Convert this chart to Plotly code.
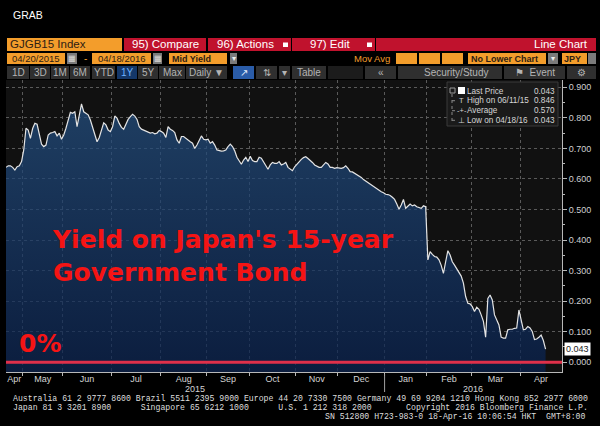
import plotly.graph_objects as go
import pandas as pd

# ---------------- data ----------------
START_DATE = "2015-04-20"
END_DATE = "2016-04-18"
JP_MARKET_HOLIDAYS = [
    "2015-04-29", "2015-05-04", "2015-05-05", "2015-05-06", "2015-07-20",
    "2015-09-21", "2015-09-22", "2015-09-23", "2015-10-12", "2015-11-03",
    "2015-11-23", "2015-12-23", "2015-12-31", "2016-01-01", "2016-01-11",
    "2016-02-11", "2016-03-21",
]
# GJGB15 mid yield (%), one value per trading day
YIELD_15Y = [
    0.638, 0.643, 0.643, 0.638, 0.629, 0.640, 0.643, 0.657, 0.695, 0.766,
    0.760, 0.733, 0.765, 0.782, 0.779, 0.744, 0.714, 0.706, 0.711, 0.744,
    0.750, 0.752, 0.755, 0.741, 0.750, 0.730, 0.744, 0.766, 0.793, 0.818,
    0.815, 0.820, 0.771, 0.815, 0.846, 0.820, 0.815, 0.810, 0.793, 0.771,
    0.744, 0.722, 0.736, 0.760, 0.784, 0.777, 0.760, 0.755, 0.771, 0.806,
    0.799, 0.782, 0.769, 0.763, 0.782, 0.795, 0.804, 0.812, 0.806, 0.795,
    0.771, 0.763, 0.760, 0.757, 0.755, 0.750, 0.752, 0.748, 0.750, 0.759,
    0.755, 0.750, 0.736, 0.771, 0.763, 0.759, 0.752, 0.728, 0.717, 0.739,
    0.739, 0.733, 0.725, 0.722, 0.717, 0.700, 0.711, 0.725, 0.741, 0.730,
    0.728, 0.730, 0.717, 0.722, 0.711, 0.695, 0.692, 0.691, 0.692, 0.695,
    0.706, 0.714, 0.706, 0.692, 0.671, 0.657, 0.648, 0.662, 0.671, 0.657,
    0.674, 0.660, 0.657, 0.657, 0.671, 0.668, 0.657, 0.646, 0.632, 0.646,
    0.654, 0.651, 0.651, 0.657, 0.646, 0.649, 0.654, 0.638, 0.632, 0.627,
    0.640, 0.649, 0.657, 0.664, 0.670, 0.673, 0.667, 0.662, 0.654, 0.646,
    0.643, 0.638, 0.638, 0.645, 0.654, 0.649, 0.638, 0.638, 0.635, 0.637,
    0.635, 0.635, 0.637, 0.643, 0.635, 0.624, 0.623, 0.618, 0.616, 0.610,
    0.605, 0.598, 0.593, 0.588, 0.583, 0.577, 0.572, 0.568, 0.561, 0.558,
    0.555, 0.550, 0.549, 0.546, 0.540, 0.533, 0.518, 0.501, 0.515, 0.533,
    0.504, 0.512, 0.518, 0.512, 0.515, 0.509, 0.506, 0.504, 0.512, 0.509,
    0.335, 0.362, 0.353, 0.346, 0.344, 0.335, 0.317, 0.291, 0.329, 0.365,
    0.351, 0.329, 0.318, 0.307, 0.297, 0.282, 0.259, 0.215, 0.193, 0.191,
    0.182, 0.166, 0.180, 0.173, 0.155, 0.134, 0.082, 0.209, 0.220, 0.204,
    0.155, 0.138, 0.122, 0.082, 0.079, 0.079, 0.106, 0.108, 0.108, 0.111,
    0.112, 0.171, 0.138, 0.106, 0.108, 0.117, 0.112, 0.101, 0.074, 0.076,
    0.082, 0.089, 0.071, 0.043,
]
Y_TICKS = [0.0, 0.1, 0.2, 0.3, 0.4, 0.5, 0.6, 0.7, 0.8, 0.9]
LEGEND_LABELS = ["Last Price", "High on 06/11/15", "Average", "Low on 04/18/16"]
LEGEND_VALUES = ["0.043", "0.846", "0.570", "0.043"]
TITLE_LINES = ["Yield on Japan's 15-year", "Government Bond"]
ZERO_LABEL = "0%"
FOOTER_LINES = [
    "Australia 61 2 9777 8600 Brazil 5511 2395 9000 Europe 44 20 7330 7500 Germany 49 69 9204 1210 Hong Kong 852 2977 6000",
    "Japan 81 3 3201 8900      Singapore 65 6212 1000      U.S. 1 212 318 2000       Copyright 2016 Bloomberg Finance L.P.",
    "SN 512800 H723-983-0 18-Apr-16 10:06:54 HKT  GMT+8:00",
]

# ---------------- derived ----------------
dates = pd.bdate_range(START_DATE, END_DATE, freq="C", holidays=JP_MARKET_HOLIDAYS)
n = min(len(dates), len(YIELD_15Y))
dates = dates[:n]
yields = YIELD_15Y[:n]
x_idx = list(range(n))

X_MAX = 250.4
Y_MIN, Y_MAX = -0.032, 0.924

bounds = [i - 0.5 for i in range(1, n) if dates[i].month != dates[i - 1].month]
edges = [0] + bounds + [X_MAX]
centers = [(edges[k] + edges[k + 1]) / 2 for k in range(len(edges) - 1)]
month_labels = [dates[0].strftime("%b")] + [dates[int(b + 0.5)].strftime("%b") for b in bounds]
year_bounds = [b for b in bounds if dates[int(b + 0.5)].year != dates[int(b - 0.5)].year]
year_edges = [0] + year_bounds + [X_MAX]
year_centers = [(year_edges[k] + year_edges[k + 1]) / 2 for k in range(len(year_edges) - 1)]
year_labels = [str(dates[0].year)] + [str(dates[int(b + 0.5)].year) for b in year_bounds]

# ---------------- pixel helpers ----------------
W, H = 600, 426
L, R, T, B = 6, 562, 80, 372


def px(x):
    return (x - L) / (R - L)


def py(y):
    return (B - y) / (B - T)


SANS = "Liberation Sans, Arial, sans-serif"
MONO = "Liberation Mono, DejaVu Sans Mono, monospace"
ORANGE = "#f39d2b"
RED = "#c0122d"
DARK_TXT = "#2e2013"
BTN = "#2f2f2f"
GRAYBOX = "#7b7b7b"

shapes = []
annotations = []


def box(x0, y0, x1, y1, fill, line=None):
    shapes.append(dict(type="rect", xref="paper", yref="paper",
                       x0=px(x0), x1=px(x1), y0=py(y1), y1=py(y0),
                       fillcolor=fill, line=dict(width=1 if line else 0, color=line or fill),
                       layer="above"))


def text(x, y, s, size=10, color="#dddddd", anchor="left", family=SANS):
    annotations.append(dict(x=px(x), y=py(y), xref="paper", yref="paper", text=s,
                            showarrow=False, xanchor=anchor, yanchor="middle",
                            borderpad=0, borderwidth=0,
                            font=dict(size=size, color=color, family=family)))


# ---------------- header ----------------
text(13, 15, "GRAB", 10.5, "#ffffff")

# row 1
box(7, 38, 122, 51, ORANGE)
text(10, 44.5, "GJGB15 Index", 11.5, DARK_TXT)
for (lbl, x0, x1, dd) in [("95) Compare", 124, 206, False), ("96) Actions", 208, 291, True),
                          ("97) Edit", 292, 375, True)]:
    box(x0, 38, x1, 51, RED)
    text((x0 + x1) / 2 - (4 if dd else 0), 44.5, lbl, 11.5, "#ffffff", "center")
    if dd:
        box(x1 - 8, 42.5, x1 - 3, 47, "#ffffff")
box(376, 38, 596, 51, RED)
text(588, 44.5, "Line Chart", 11.5, "#ffffff", "right")

# row 2
box(7, 53, 65, 64, ORANGE)
text(36, 58.5, "04/20/2015", 9.5, DARK_TXT, "center")
box(67, 53, 77, 64, GRAYBOX)
text(72, 58.5, "▦", 8, "#dddddd", "center")
text(85, 58.5, "-", 10, ORANGE, "center")
box(92, 53, 151, 64, ORANGE)
text(121.5, 58.5, "04/18/2016", 9.5, DARK_TXT, "center")
box(153, 53, 162, 64, GRAYBOX)
text(157.5, 58.5, "▦", 8, "#dddddd", "center")
box(169, 53, 227, 64, ORANGE)
text(172, 58.5, "<b>Mid Yield</b>", 9, DARK_TXT)
box(230, 53, 237, 64, GRAYBOX)
text(233.5, 58.5, "▾", 8, "#eeeeee", "center")
text(390, 58.5, "Mov Avg", 9.5, ORANGE, "right")
for x0, x1 in [(396, 417), (419, 440), (442, 463)]:
    box(x0, 53, x1, 64, ORANGE)
box(468, 53, 546, 64, ORANGE)
text(471, 58.5, "<b>No Lower Chart</b>", 9, DARK_TXT)
box(548, 53, 558, 64, GRAYBOX)
text(553, 58.5, "▾", 8, "#eeeeee", "center")
box(562, 53, 587, 64, ORANGE)
text(564, 58.5, "<b>JPY</b>", 9, DARK_TXT)
box(588, 53, 596, 64, GRAYBOX)

# row 3
buttons = [("1D", 7, 29), ("3D", 30, 50), ("1M", 51, 69), ("6M", 70, 90), ("YTD", 92, 115),
           ("1Y", 117, 137), ("5Y", 138, 158), ("Max", 159, 185), ("Daily ▼", 186, 227),
           ("↗", 233, 254), ("⇅", 256, 277), ("▾", 279, 290), ("Table", 292, 326),
           ("", 328, 363), ("«", 365, 396), ("Security/Study", 398, 502),
           ("⚑  Event", 504, 565), ("⚙", 567, 596)]
for lbl, x0, x1 in buttons:
    if lbl == "1Y":
        box(x0, 66, x1, 79, "#143768")
        text((x0 + x1) / 2, 72.5, lbl, 10, "#6fb4ff", "center")
    elif lbl == "↗":
        box(x0, 66, x1, 79, "#2a5ca8")
        text((x0 + x1) / 2, 72.5, lbl, 10, "#e8f0ff", "center")
    else:
        box(x0, 66, x1, 79, BTN if lbl else "#1c1c1c")
        text((x0 + x1) / 2 + (6 if lbl == "Security/Study" else 0), 72.5, lbl, 10,
             "#b4b4b4", "center")

# ---------------- chart traces ----------------
fig = go.Figure()
fig.add_trace(go.Scatter(x=x_idx, y=[Y_MIN] * n, mode="lines", line=dict(width=0),
                         hoverinfo="skip", showlegend=False))
fig.add_trace(go.Scatter(
    x=x_idx, y=yields, mode="lines", line=dict(color="#e4e4e4", width=1.2),
    fill="tonexty",
    fillgradient=dict(type="vertical",
                      colorscale=[[0, "rgba(9,34,80,0.72)"], [1, "rgba(36,80,130,0.72)"]]),
    customdata=list(dates.strftime("%m/%d/%y")),
    hovertemplate="%{customdata}: %{y:.3f}<extra></extra>", showlegend=False))
# carrier trace so that the month-label axis (x2) is drawn
fig.add_trace(go.Scatter(x=centers, y=[None] * len(centers), xaxis="x2", yaxis="y",
                         mode="markers", marker=dict(opacity=0), hoverinfo="skip",
                         showlegend=False))

# zero line
shapes.append(dict(type="line", xref="paper", yref="y", x0=0, x1=1, y0=0, y1=0,
                   line=dict(color="#e0304a", width=3), layer="above"))

# year divider
for b in year_bounds:
    shapes.append(dict(type="line", xref="x", yref="paper", x0=b, x1=b,
                       y0=py(374), y1=py(392), line=dict(color="#a0a0a0", width=1)))
for c, lbl in zip(year_centers, year_labels):
    annotations.append(dict(x=c, y=py(388.5), xref="x", yref="paper", text=lbl,
                            showarrow=False, xanchor="center", yanchor="middle",
                            font=dict(size=9, color="#d4d4d4", family=SANS)))

# legend box
box(447, 82, 558, 126, "#1a1a1a", "#3a3a3a")
shapes.append(dict(type="line", xref="paper", yref="paper", x0=px(452), x1=px(452),
                   y0=py(94), y1=py(121), line=dict(color="#888888", width=1, dash="dot")))
for yy in [100.7, 110.7, 120.3]:
    shapes.append(dict(type="line", xref="paper", yref="paper", x0=px(452), x1=px(456),
                       y0=py(yy), y1=py(yy), line=dict(color="#888888", width=1, dash="dot")))
box(450, 88, 455, 93, "#1a1a1a", "#999999")
box(458, 87, 465, 94, "#ffffff")
icons = ["", "T", "-+-", "⊥"]
rows_y = [91, 100.7, 110.7, 120.3]
for ic, lbl, val, yy in zip(icons, LEGEND_LABELS, LEGEND_VALUES, rows_y):
    if ic:
        text(461.5, yy, ic, 7.5, "#cfcfcf", "center")
    text(467, yy, lbl, 8.2, "#d6d6d6")
    text(555, yy, val, 8.2, "#d6d6d6", "right")

# last price tag on axis
annotations.append(dict(x=px(564), y=yields[-1], xref="paper", yref="y",
                        text=f"{yields[-1]:.3f}", showarrow=False, xanchor="left",
                        yanchor="middle", bgcolor="#ffffff", borderpad=1,
                        font=dict(size=9, color="#222222", family=SANS)))

# big red captions
annotations.append(dict(x=px(50), y=py(256), xref="paper", yref="paper",
                        text="<b>" + "<br>".join(TITLE_LINES) + "</b>", align="left",
                        showarrow=False, xanchor="left", yanchor="middle",
                        font=dict(size=25, color="#f51414", family="DejaVu Sans")))
annotations.append(dict(x=px(17), y=py(343), xref="paper", yref="paper",
                        text="<b>" + ZERO_LABEL + "</b>", showarrow=False,
                        xanchor="left", yanchor="middle",
                        font=dict(size=25, color="#f51414", family="DejaVu Sans")))

# footer
NB = "\u00a0"
annotations.append(dict(x=px(11), y=py(398), xref="paper", yref="paper",
                        text=FOOTER_LINES[0].replace(" ", NB), showarrow=False,
                        xanchor="left", yanchor="middle",
                        font=dict(size=8.2, color="#dedede", family=MONO)))
annotations.append(dict(x=px(11), y=py(407), xref="paper", yref="paper",
                        text=FOOTER_LINES[1].replace(" ", NB), showarrow=False,
                        xanchor="left", yanchor="middle",
                        font=dict(size=8.2, color="#dedede", family=MONO)))
annotations.append(dict(x=px(587), y=py(416), xref="paper", yref="paper",
                        text=FOOTER_LINES[2].replace(" ", NB), showarrow=False,
                        xanchor="right", yanchor="middle",
                        font=dict(size=8.2, color="#dedede", family=MONO)))

AXIS_COL = "#b8b8b8"
GRID_COL = "#5a5a5a"
fig.update_layout(
    width=W, height=H,
    margin=dict(l=L, r=W - R, t=T, b=H - B, pad=0),
    paper_bgcolor="#000000", plot_bgcolor="#111111",
    showlegend=False,
    xaxis=dict(range=[0, X_MAX], tickmode="array", tickvals=bounds,
               ticktext=[""] * len(bounds), ticks="outside", ticklen=3, tickcolor=AXIS_COL,
               showline=True, linecolor=AXIS_COL, linewidth=1,
               showgrid=True, gridcolor=GRID_COL, griddash="dot", gridwidth=1,
               zeroline=False, fixedrange=True),
    xaxis2=dict(range=[0, X_MAX], overlaying="x", anchor="y", side="bottom",
                tickmode="array", tickvals=centers, ticktext=month_labels,
                ticks="", showline=False, showgrid=False, zeroline=False,
                tickfont=dict(size=9, color="#d4d4d4", family=SANS), fixedrange=True),
    yaxis=dict(range=[Y_MIN, Y_MAX], side="right", tickmode="array", tickvals=Y_TICKS,
               tickformat=".3f", ticks="outside", ticklen=4, tickcolor=AXIS_COL,
               showline=True, linecolor=AXIS_COL, linewidth=1,
               showgrid=True, gridcolor=GRID_COL, griddash="dot", gridwidth=1,
               zeroline=False,
               minor=dict(tick0=0.05, dtick=0.1, ticks="outside", ticklen=2,
                          tickcolor=AXIS_COL, showgrid=False),
               tickfont=dict(size=9, color="#cfcfcf", family=SANS), fixedrange=True),
    shapes=shapes, annotations=annotations,
)

fig.write_html("out.html")
